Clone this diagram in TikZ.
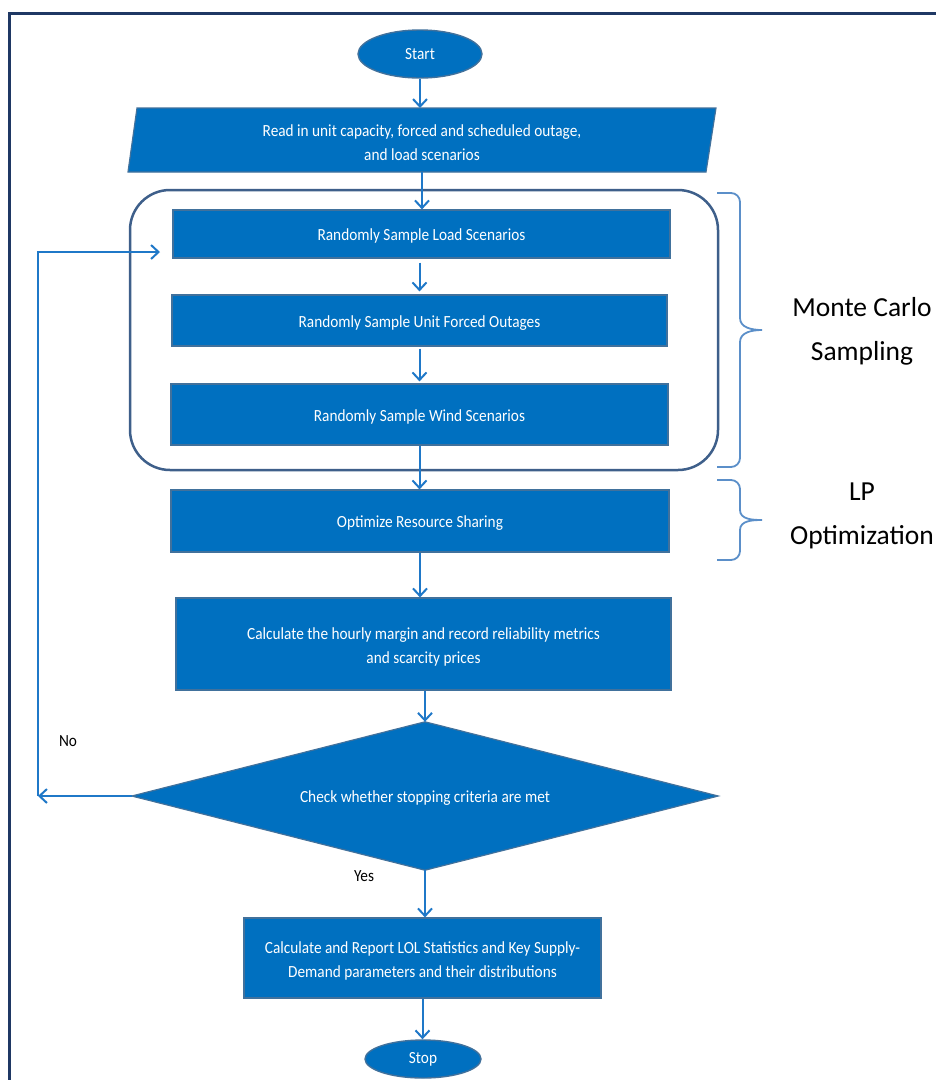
\documentclass[tikz,border=0pt]{standalone}
\usepackage{fontspec}
\setmainfont{Carlito}
\newfontfamily\boxfont[FakeStretch=0.9]{Carlito}
\usetikzlibrary{arrows.meta,shapes.geometric}
\definecolor{boxblue}{HTML}{0070C0}
\definecolor{boxedge}{HTML}{41719C}
\definecolor{arrowblue}{HTML}{1F78C8}
\definecolor{frameblue}{HTML}{1F3864}
\definecolor{groupedge}{HTML}{3E5F8A}
\definecolor{braceblue}{HTML}{5B8FC9}
\begin{document}
\begin{tikzpicture}[x=1pt,y=-1pt,
  boxtext/.style={font=\boxfont\fontsize{17}{24}\selectfont},
  lowered/.style={execute at begin node={\rule{0pt}{16pt}}},
  procbox/.style={draw=boxedge, line width=1.2pt, fill=boxblue, text=white, boxtext, align=center, inner sep=0pt},
  boxlabel/.style={boxtext, text=white, align=center, inner sep=0pt},
  term/.style={ellipse, draw=boxedge, line width=1.4pt, fill=boxblue, text=white, boxtext, inner sep=0pt},
  flow/.style={draw=arrowblue, line width=2pt, -{Straight Barb[length=7.5pt,width=14pt]}},
  bracestyle/.style={draw=braceblue, line width=1.8pt},
  sidetext/.style={font=\fontsize{27.5}{44}\selectfont, align=center, text=black},
  plain/.style={boxtext, text=black}
]
\useasboundingbox (0,0) rectangle (936,1080);
\fill[white] (0,0) rectangle (936,1080);
% frame
\draw[frameblue, line width=3pt] (936,13) -- (9,13) -- (9,1080);

% group rounded rectangle
\node[draw=groupedge, line width=2.5pt, rounded corners=40pt, minimum width=588pt, minimum height=280pt, inner sep=0pt] (group) at (424,330) {};

% start
\node[term, minimum width=124pt, minimum height=48pt] (start) at (420,54) {Start};

% parallelogram input
\fill[boxblue, draw=boxedge, line width=1.2pt] (137,108) -- (716,108) -- (706,172) -- (128,172) -- cycle;
\coordinate (readtop) at (422,108);
\coordinate (readbot) at (422,172);
\node[boxlabel] (read) at (422,143)
  {Read in unit capacity, forced and scheduled outage,\\and load scenarios};

% process boxes
\node[procbox, lowered, minimum width=497pt, minimum height=48pt] (load) at (421.5,234) {Randomly Sample Load Scenarios};
\node[procbox, lowered, minimum width=495pt, minimum height=51pt] (forced) at (419.5,320.5) {Randomly Sample Unit Forced Outages};
\node[procbox, lowered, minimum width=497pt, minimum height=61pt] (wind) at (419.5,414.5) {Randomly Sample Wind Scenarios};
\node[procbox, lowered, minimum width=498pt, minimum height=62pt] (opt) at (420,521) {Optimize Resource Sharing};
\node[procbox, minimum width=495pt, minimum height=92pt] (calc) at (423.5,644) {};
\node[boxlabel] (calctext) at (423.5,647)
  {Calculate the hourly margin and record reliability metrics\\and scarcity prices};

% decision diamond
\node[inner sep=0pt, minimum width=586pt, minimum height=148pt] (check) at (425,796) {};
\fill[boxblue, draw=boxedge, line width=1.2pt] (check.north) -- (check.east) -- (check.south) -- (check.west) -- cycle;
\node[boxlabel, lowered] (checktext) at (check.center) {Check whether stopping criteria are met};

\node[procbox, minimum width=357pt, minimum height=80pt] (report) at (422.5,958) {};
\node[boxlabel] (reporttext) at (422.5,961)
  {Calculate and Report LOL Statistics and Key Supply-\\Demand parameters and their distributions};
\node[term, minimum width=116pt, minimum height=38pt] (stop) at (423,1059) {Stop};

% labels
\node[plain] (no) at (68,741) {No};
\node[plain] (yes) at (364,876) {Yes};

% connectors
\draw[flow] (start.south) -- (start.south |- readtop);
\draw[flow] (readbot) -- (readbot |- load.north);
\draw[flow, shorten <=4pt, shorten >=3pt] (load.south -| forced.north) -- (forced.north);
\draw[flow, shorten <=2pt, shorten >=2pt] (forced.south) -- (forced.south |- wind.north);
\draw[flow] (wind.south) -- (wind.south |- opt.north);
\draw[flow] (opt.south) -- (opt.south |- calc.north);
\draw[flow] (check.north |- calc.south) -- (check.north);
\draw[flow] (check.south) -- (check.south |- report.north);
\draw[flow] (report.south) -- (report.south |- stop.north);

% loop back
\coordinate (loopA) at (38,796);
\coordinate (loopB) at (38,252);
\coordinate (loopEnd) at (160,252);
\draw[flow] (check.west) -- (loopA);
\draw[flow] (loopA) -- (loopB) -- (loopEnd);

% braces
\draw[bracestyle] (717,193) -- (731,193) to[out=0,in=90] (740,202) -- (740,318)
   to[out=-90,in=180] (762,330) to[out=180,in=90] (740,342) -- (740,458) to[out=-90,in=0] (731,467) -- (717,467);
\draw[bracestyle] (717,480) -- (731,480) to[out=0,in=90] (740,489) -- (740,510)
   to[out=-90,in=180] (762,520) to[out=180,in=90] (740,530) -- (740,551) to[out=-90,in=0] (731,560) -- (717,560);

\node[sidetext] (mc) at (862,331) {Monte Carlo\\Sampling};
\node[sidetext] (lp) at (862,516) {LP\\Optimization};
\end{tikzpicture}
\end{document}
